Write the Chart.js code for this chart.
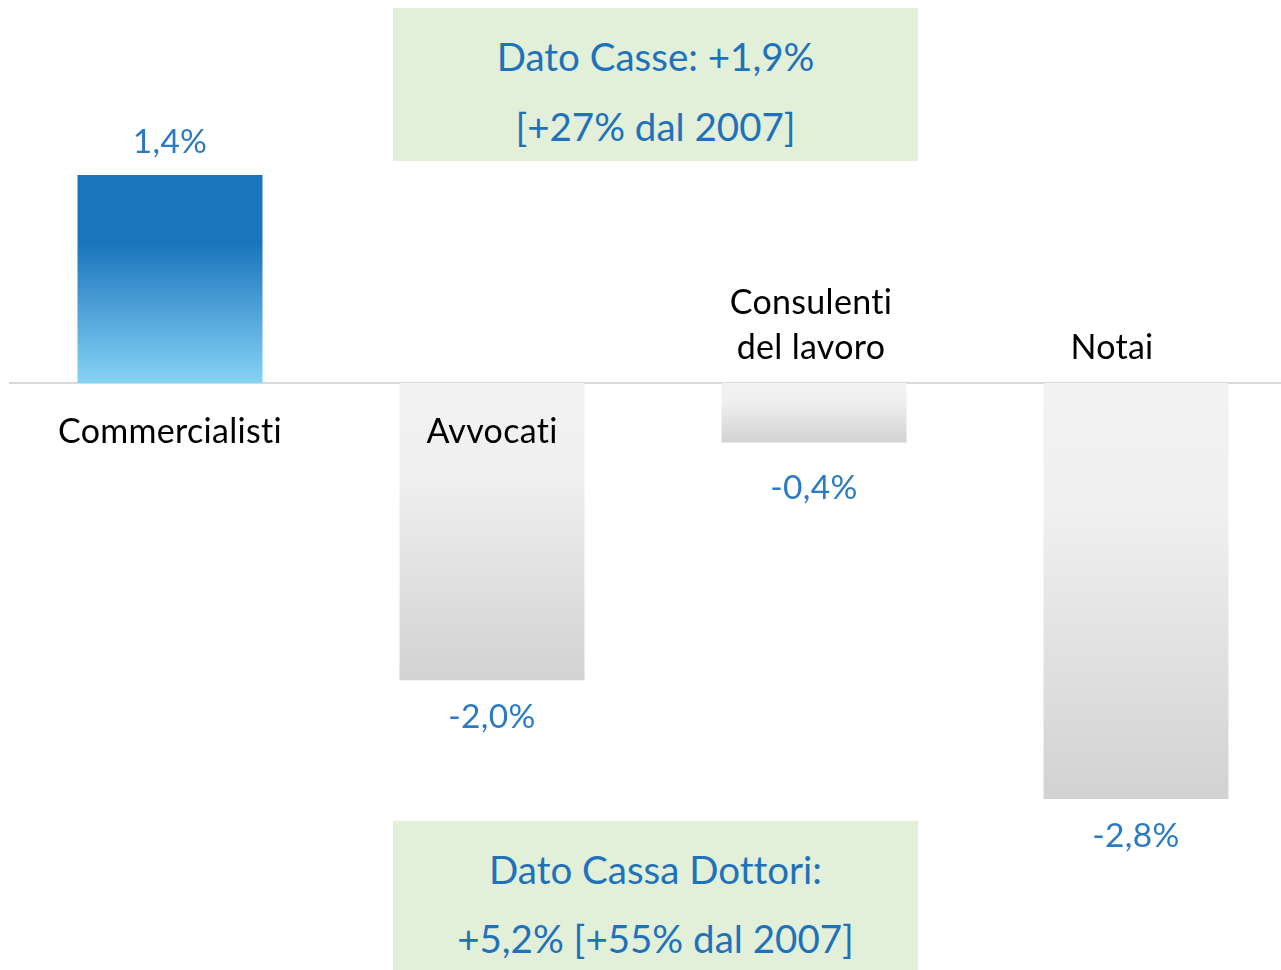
<!DOCTYPE html>
<html><head><meta charset="utf-8">
<script src="https://cdn.jsdelivr.net/npm/chart.js@4"></script>
<style>
html,body{margin:0;padding:0;background:#fff;overflow:hidden;width:1281px;height:970px;}
#wrap{position:absolute;left:0;top:0;width:1297px;height:970px;}
.box{position:absolute;left:393px;width:525px;background:#e2efd9;color:#1f72ba;font-family:Lato,sans-serif;font-size:38.5px;text-align:center;font-variant-ligatures:none;}
.box div{position:absolute;left:0;right:0;line-height:50px;}
</style></head>
<body>
<div id="wrap"><canvas id="c" width="1297" height="970"></canvas></div>
<div class="box" style="top:8px;height:153px;">
  <div style="top:23px">Dato Casse: +1,9%</div>
  <div style="top:93px">[+27% dal 2007]</div>
</div>
<div class="box" style="top:821px;height:149px;">
  <div style="top:23px">Dato Cassa Dottori:</div>
  <div style="top:92px">+5,2% [+55% dal 2007]</div>
</div>
<script>
const categories = [["Commercialisti"], ["Avvocati"], ["Consulenti", "del lavoro"], ["Notai"]];
const values = [1.4, -2.0, -0.4, -2.8];
const valueLabels = ["1,4%", "-2,0%", "-0,4%", "-2,8%"];

// label placement (style/position options, not data)
const catLabelPos = [{dx:0, y:432}, {dx:0, y:432}, {dx:-3, y:[303,348]}, {dx:-24, y:348}];
const valLabelGap = [33, 37, 46, 37];

function barGradient(chart, idx){
  const y = chart.scales.y;
  const v = values[idx];
  const p0 = y.getPixelForValue(0), p1 = y.getPixelForValue(v);
  const top = Math.min(p0, p1), bot = Math.max(p0, p1);
  const g = chart.ctx.createLinearGradient(0, top, 0, bot);
  if (v >= 0){
    g.addColorStop(0, '#1b75bc'); g.addColorStop(0.33, '#1b75bc'); g.addColorStop(1, '#86d3f6');
  } else {
    g.addColorStop(0, '#f2f2f2'); g.addColorStop(0.3, '#f0f0f0'); g.addColorStop(1, '#d2d2d2');
  }
  return g;
}

const zeroLine = {
  id:'zeroLine',
  beforeDatasetsDraw(chart){
    const {ctx, scales:{y}} = chart;
    const yy = y.getPixelForValue(0);
    ctx.save(); ctx.strokeStyle='#d9d9d9'; ctx.lineWidth=2;
    ctx.beginPath(); ctx.moveTo(9, yy); ctx.lineTo(1281, yy); ctx.stroke(); ctx.restore();
  }
};

const labels = {
  id:'labels',
  afterDatasetsDraw(chart){
    const {ctx} = chart;
    const meta = chart.getDatasetMeta(0);
    ctx.save();
    ctx.textAlign='center'; ctx.textBaseline='middle';
    try { ctx.letterSpacing = '0.3px'; } catch(e) {}
    meta.data.forEach((bar, i) => {
      ctx.fillStyle='#000'; ctx.font='34px Lato, sans-serif';
      const p = catLabelPos[i];
      const ys = Array.isArray(p.y) ? p.y : [p.y];
      categories[i].forEach((t, k) => ctx.fillText(t, bar.x + p.dx, ys[k]));
      ctx.fillStyle='#2a7bc4'; ctx.font='33.5px Lato, sans-serif';
      const v = values[i];
      const yy = v >= 0 ? bar.y - valLabelGap[i] : bar.y + valLabelGap[i];
      ctx.fillText(valueLabels[i], bar.x, yy);
    });
    ctx.restore();
  }
};

new Chart(document.getElementById('c'), {
  type:'bar',
  data:{
    labels: categories.map(c => c.join(' ')),
    datasets:[{
      data: values,
      backgroundColor: (c) => {
        const chart = c.chart;
        if (!chart.chartArea || !chart.scales || !chart.scales.y || c.dataIndex === undefined) return '#cccccc';
        return barGradient(chart, c.dataIndex);
      },
      borderWidth:0,
      categoryPercentage:1,
      barPercentage:0.5745
    }]
  },
  options:{
    responsive:false, animation:false,
    layout:{padding:{left:9, right:0, top:0, bottom:0}},
    plugins:{legend:{display:false}, tooltip:{enabled:false}},
    scales:{
      x:{display:false, offset:true},
      y:{display:false, min:-3.95, max:2.5774}
    }
  },
  plugins:[zeroLine, labels]
});
</script>
</body></html>
